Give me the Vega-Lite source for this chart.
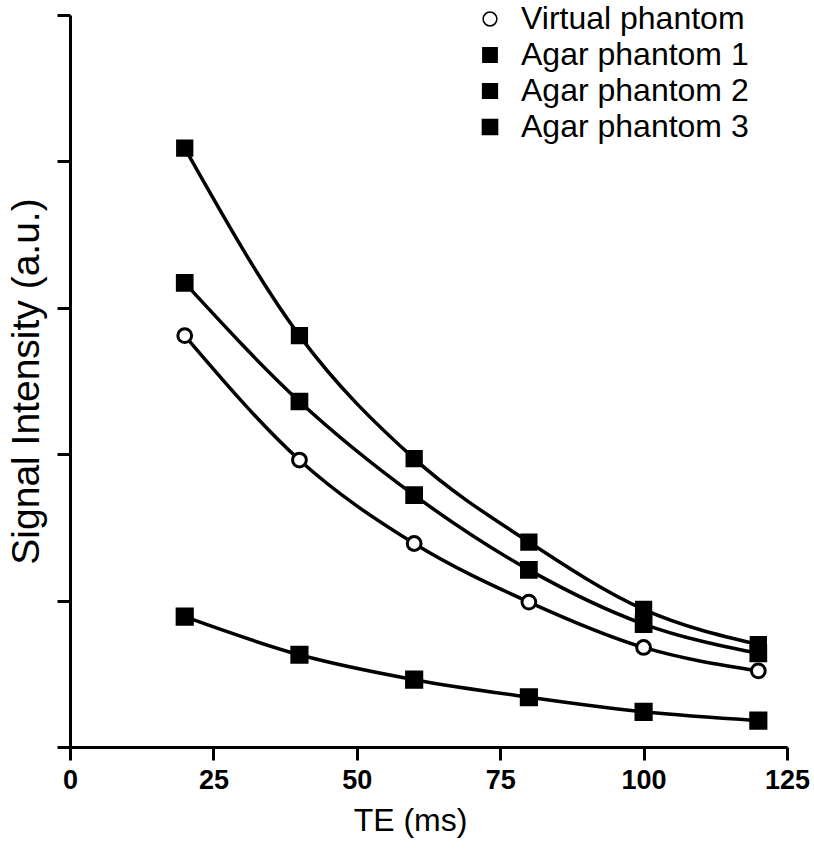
{
  "$schema": "https://vega.github.io/schema/vega-lite/v6.json",
  "autosize": {"type": "none"},
  "padding": {"left": 70, "top": 15, "right": 27, "bottom": 112},
  "width": 717,
  "height": 732,
  "background": "white",
  "config": {
    "font": "Liberation Sans",
    "view": {"stroke": null},
    "axis": {"grid": false, "domainColor": "black", "tickColor": "black", "domainWidth": 3, "tickWidth": 3, "tickSize": 13, "labelColor": "black", "titleColor": "black"},
    "legend": {"labelFontSize": 32, "labelLimit": 400, "labelColor": "black", "labelOffset": 15, "rowPadding": 4}
  },
  "data": {
    "values": [
      {"series": "Virtual phantom", "te": 20, "si": 2.81},
      {"series": "Virtual phantom", "te": 40, "si": 1.96},
      {"series": "Virtual phantom", "te": 60, "si": 1.39},
      {"series": "Virtual phantom", "te": 80, "si": 0.99},
      {"series": "Virtual phantom", "te": 100, "si": 0.68},
      {"series": "Virtual phantom", "te": 120, "si": 0.52},
      {"series": "Agar phantom 1", "te": 20, "si": 4.09},
      {"series": "Agar phantom 1", "te": 40, "si": 2.81},
      {"series": "Agar phantom 1", "te": 60, "si": 1.97},
      {"series": "Agar phantom 1", "te": 80, "si": 1.40},
      {"series": "Agar phantom 1", "te": 100, "si": 0.94},
      {"series": "Agar phantom 1", "te": 120, "si": 0.70},
      {"series": "Agar phantom 2", "te": 20, "si": 3.17},
      {"series": "Agar phantom 2", "te": 40, "si": 2.36},
      {"series": "Agar phantom 2", "te": 60, "si": 1.72},
      {"series": "Agar phantom 2", "te": 80, "si": 1.21},
      {"series": "Agar phantom 2", "te": 100, "si": 0.84},
      {"series": "Agar phantom 2", "te": 120, "si": 0.64},
      {"series": "Agar phantom 3", "te": 20, "si": 0.89},
      {"series": "Agar phantom 3", "te": 40, "si": 0.63},
      {"series": "Agar phantom 3", "te": 60, "si": 0.46},
      {"series": "Agar phantom 3", "te": 80, "si": 0.34},
      {"series": "Agar phantom 3", "te": 100, "si": 0.24},
      {"series": "Agar phantom 3", "te": 120, "si": 0.18}
    ]
  },
  "encoding": {
    "x": {
      "field": "te", "type": "quantitative",
      "scale": {"domain": [0, 125], "nice": false, "zero": false},
      "axis": {"title": "TE (ms)", "values": [0, 25, 50, 75, 100, 125], "labelFontSize": 27, "labelFontWeight": "bold", "labelPadding": 7, "titleFontSize": 32, "titleFontWeight": "normal", "titlePadding": 12, "titleX": 340, "titleAlign": "center", "labelFlush": false}
    },
    "y": {
      "field": "si", "type": "quantitative",
      "scale": {"domain": [0, 5], "nice": false},
      "axis": {"title": "Signal Intensity (a.u.)", "values": [0, 1, 2, 3, 4, 5], "labels": false, "titleFontSize": 39, "titleFontWeight": "normal", "titlePadding": 9}
    }
  },
  "layer": [
    {
      "mark": {"type": "line", "interpolate": "monotone", "color": "black", "strokeWidth": 3.5},
      "encoding": {"detail": {"field": "series"}}
    },
    {
      "mark": {"type": "point", "filled": true, "stroke": "black", "strokeWidth": 3, "opacity": 1},
      "encoding": {
        "shape": {"field": "series", "type": "nominal", "scale": {"domain": ["Virtual phantom", "Agar phantom 1", "Agar phantom 2", "Agar phantom 3"], "range": ["circle", "square", "square", "square"]}, "legend": {"title": null, "orient": "none", "legendX": 404, "legendY": -12, "encode": {"symbols": {"update": {"stroke": {"value": "black"}, "strokeWidth": {"value": 3}}}}}},
        "fill": {"field": "series", "type": "nominal", "scale": {"domain": ["Virtual phantom", "Agar phantom 1", "Agar phantom 2", "Agar phantom 3"], "range": ["white", "black", "black", "black"]}, "legend": {"title": null, "orient": "none", "legendX": 404, "legendY": -12, "encode": {"symbols": {"update": {"stroke": {"value": "black"}, "strokeWidth": {"value": 3}}}}}},
        "size": {"field": "series", "type": "nominal", "scale": {"domain": ["Virtual phantom", "Agar phantom 1", "Agar phantom 2", "Agar phantom 3"], "range": [190, 230, 230, 230]}, "legend": {"title": null, "orient": "none", "legendX": 404, "legendY": -12, "encode": {"symbols": {"update": {"stroke": {"value": "black"}, "strokeWidth": {"value": 3}}}}}}
      }
    }
  ]
}
